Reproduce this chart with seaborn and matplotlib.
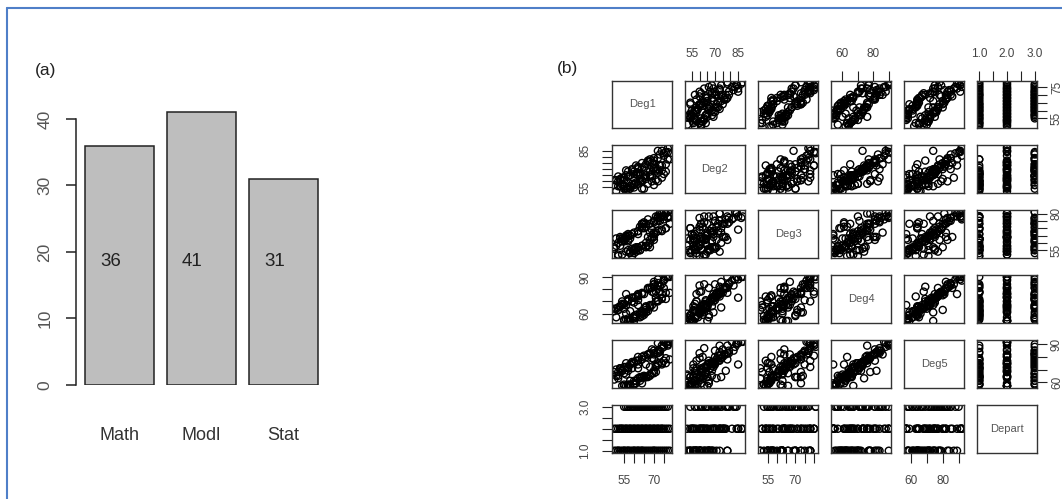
import numpy as np
import pandas as pd
import matplotlib
matplotlib.use("Agg")
import matplotlib.pyplot as plt
import seaborn as sns
from matplotlib.lines import Line2D

# (a) number of students per department
departments = ["Math", "Modl", "Stat"]
counts = [36, 41, 31]

# (b) marks of the 108 students in the five courses (Math, then Modl, then Stat)
deg1 = [52, 55, 60, 64, 70, 51, 57, 62, 67, 73, 76, 53, 58, 66, 71, 54, 61, 69, 78, 56,
        63, 74, 59, 65, 50, 68, 72, 55, 60, 75, 57, 64, 52, 70, 77, 62,
        51, 54, 58, 62, 66, 70, 74, 77, 53, 56, 60, 64, 68, 72, 76, 50, 55, 59, 63, 67,
        71, 75, 52, 57, 61, 65, 69, 73, 78, 54, 58, 62, 66, 70, 74, 53, 60, 64, 68, 72, 56,
        55, 58, 62, 66, 70, 74, 77, 56, 60, 64, 68, 72, 76, 57, 61, 65, 69, 73,
        59, 63, 67, 71, 75, 60, 64, 68, 72, 57, 62, 66, 70]
deg2 = [60, 54, 66, 54, 71, 61, 53, 65, 58, 73, 68, 56, 56, 69, 61, 58, 66, 60, 78, 52,
        66, 63, 58, 54, 57, 68, 60, 63, 58, 66, 64, 60, 56, 57, 78, 67,
        52, 63, 56, 71, 62, 77, 73, 87, 62, 54, 68, 60, 76, 67, 84, 61, 56, 70, 60, 76,
        69, 81, 64, 55, 73, 63, 75, 73, 88, 57, 65, 58, 74, 70, 85, 61, 55, 75, 65, 85, 69,
        61, 54, 72, 65, 79, 69, 84, 65, 57, 71, 64, 79, 74, 64, 59, 72, 64, 82,
        69, 62, 77, 68, 83, 57, 61, 78, 70, 68, 70, 65, 74]
deg3 = [51, 62, 55, 70, 62, 63, 55, 66, 58, 75, 70, 58, 63, 57, 73, 63, 56, 69, 73, 63,
        55, 78, 51, 70, 57, 57, 77, 63, 53, 78, 62, 58, 60, 66, 78, 55,
        58, 52, 65, 57, 71, 64, 80, 77, 63, 54, 67, 58, 73, 68, 80, 56, 63, 56, 71, 64,
        78, 76, 52, 66, 54, 74, 64, 80, 78, 61, 54, 68, 60, 75, 69, 64, 55, 73, 67, 78, 64,
        61, 53, 68, 58, 74, 68, 81, 65, 56, 71, 60, 77, 70, 65, 57, 73, 63, 77,
        66, 55, 76, 67, 81, 55, 73, 62, 75, 61, 57, 73, 67]
deg4 = [63, 55, 69, 58, 77, 64, 56, 67, 62, 82, 72, 66, 62, 61, 78, 70, 59, 78, 77, 60,
        57, 84, 70, 59, 62, 66, 83, 68, 58, 81, 70, 60, 63, 65, 90, 71,
        57, 67, 54, 74, 63, 82, 76, 90, 66, 55, 73, 62, 81, 70, 90, 64, 54, 73, 61, 80,
        70, 87, 65, 54, 74, 61, 81, 78, 90, 68, 54, 76, 65, 84, 73, 66, 54, 77, 67, 88, 76,
        64, 55, 75, 66, 84, 72, 90, 67, 57, 76, 65, 85, 77, 71, 57, 76, 67, 83,
        73, 59, 81, 73, 88, 56, 61, 81, 71, 72, 75, 65, 86]
deg5 = [63, 58, 75, 64, 78, 70, 58, 74, 64, 84, 75, 71, 61, 74, 68, 69, 59, 79, 78, 66,
        61, 87, 71, 64, 62, 65, 83, 72, 58, 77, 72, 64, 65, 67, 89, 71,
        65, 57, 74, 63, 80, 69, 89, 92, 70, 57, 76, 64, 82, 75, 91, 68, 57, 75, 64, 82,
        72, 92, 68, 57, 77, 65, 86, 81, 92, 69, 57, 77, 64, 85, 74, 71, 59, 80, 72, 91, 75,
        67, 58, 77, 64, 83, 75, 90, 72, 61, 78, 66, 85, 79, 71, 61, 81, 67, 85,
        76, 63, 82, 73, 88, 58, 59, 83, 74, 69, 80, 64, 82]
depart = np.repeat([1, 2, 3], counts)

variables = ["Deg1", "Deg2", "Deg3", "Deg4", "Deg5", "Depart"]
df = pd.DataFrame({"Deg1": deg1, "Deg2": deg2, "Deg3": deg3,
                   "Deg4": deg4, "Deg5": deg5, "Depart": depart})

# tick positions per variable and which of them carry a label on each side
ticks = {"Deg1": [55, 60, 65, 70, 75], "Deg2": [55, 60, 65, 70, 75, 80, 85],
         "Deg3": [55, 60, 65, 70, 75, 80], "Deg4": [60, 70, 80, 90],
         "Deg5": [60, 70, 80, 90], "Depart": [1.0, 1.5, 2.0, 2.5, 3.0]}
top_labels = {1: [55, 70, 85], 3: [60, 80], 5: [1.0, 2.0, 3.0]}
bottom_labels = {0: [55, 70], 2: [55, 70], 4: [60, 80]}
left_labels = {1: [55, 85], 3: [60, 90], 5: [1.0, 3.0]}
right_labels = {0: [55, 75], 2: [55, 80], 4: [60, 90]}

W, H = 1062, 499
sns.set_style("white")
plt.rcParams["font.family"] = ["Liberation Sans", "DejaVu Sans"]

fig = plt.figure(figsize=(W / 100, H / 100), dpi=100)


def px_axes(x0, y0, x1, y1):
    return fig.add_axes([x0 / W, 1 - y1 / H, (x1 - x0) / W, (y1 - y0) / H])


def fmt(v, var):
    return f"{v:.1f}" if var == "Depart" else f"{v:g}"


# ---- (a) bar chart ----
ax = px_axes(76, 105, 326, 385)
sns.barplot(x=departments, y=counts, ax=ax, color="#bebebe", saturation=1,
            edgecolor="#222222", linewidth=1.1, width=0.84)
ax.set_xlim(-0.53, 2.52)
ax.set_ylim(0, 42.1)
for s in ["top", "right", "bottom"]:
    ax.spines[s].set_visible(False)
ax.spines["left"].set_bounds(0, 40)
ax.spines["left"].set_color("#222222")
ax.spines["left"].set_linewidth(1.1)
ax.set_yticks([0, 10, 20, 30, 40])
ax.set_yticklabels(["0", "10", "20", "30", "40"], rotation=90, va="center")
ax.tick_params(axis="y", length=7, width=1.1, color="#222222", pad=10,
               labelsize=12.5, labelcolor="#555555", left=True)
ax.tick_params(axis="x", length=0, pad=30, labelsize=13, labelcolor="#333333")
for i, v in enumerate(counts):
    ax.text(i - 0.11, 18.5, str(v), ha="center", va="center", fontsize=13.5, color="#222222")
ax.set_xlabel("")
ax.set_ylabel("")
fig.text(46 / W, 1 - 70 / H, "(a)", ha="center", va="center", fontsize=12.5, color="#222222")

# ---- (b) scatterplot matrix ----
lims = {}
for v in variables:
    lo, hi = df[v].min(), df[v].max()
    r = hi - lo
    lims[v] = (lo - 0.04 * r, hi + 0.04 * r)

col_x = [612 + 73 * j for j in range(6)]
row_y = [80.5 + 64.9 * i for i in range(6)]
pw, ph = 60, 47.5

tp = dict(length=7, width=0.8, color="#222222", labelsize=8.5, labelcolor="#444444")

for i, yv in enumerate(variables):
    for j, xv in enumerate(variables):
        ax = px_axes(col_x[j], row_y[i], col_x[j] + pw, row_y[i] + ph)
        if i == j:
            ax.text(0.5, 0.5, xv, transform=ax.transAxes, ha="center", va="center",
                    fontsize=8, color="#555555")
        else:
            sns.scatterplot(x=df[xv], y=df[yv], ax=ax, marker="o", s=26,
                            facecolors="none", edgecolor="black", linewidth=1.0,
                            legend=False)
            ax.set_xlim(lims[xv])
            ax.set_ylim(lims[yv])
        ax.set_xticks([])
        ax.set_yticks([])
        ax.set_xlabel("")
        ax.set_ylabel("")
        for s in ax.spines.values():
            s.set_color("#333333")
            s.set_linewidth(1.0)
        if i == 0 and j in top_labels:
            ax.xaxis.tick_top()
            ax.set_xticks(ticks[xv])
            ax.set_xticklabels([fmt(t, xv) if t in top_labels[j] else "" for t in ticks[xv]])
            ax.tick_params(axis="x", pad=8, **tp)
        if i == 5 and j in bottom_labels:
            ax.set_xticks(ticks[xv])
            ax.set_xticklabels([fmt(t, xv) if t in bottom_labels[j] else "" for t in ticks[xv]])
            ax.tick_params(axis="x", bottom=True, pad=9, **tp)
        if j == 0 and i in left_labels:
            ax.set_yticks(ticks[yv])
            ax.set_yticklabels([fmt(t, yv) if t in left_labels[i] else "" for t in ticks[yv]],
                               rotation=90, va="center")
            ax.tick_params(axis="y", left=True, pad=8, **tp)
        if j == 5 and i in right_labels:
            ax.yaxis.tick_right()
            ax.set_yticks(ticks[yv])
            ax.set_yticklabels([fmt(t, yv) if t in right_labels[i] else "" for t in ticks[yv]],
                               rotation=90, va="center")
            ax.tick_params(axis="y", pad=3, **tp)

fig.text(568 / W, 1 - 69 / H, "(b)", ha="center", va="center", fontsize=12.5, color="#222222")

# thin blue frame of the original screenshot (left and top edges)
fig.add_artist(Line2D([7 / W, 7 / W], [0, 1 - 8 / H], color="#4f7fc8", lw=1.5))
fig.add_artist(Line2D([7 / W, 1], [1 - 8 / H, 1 - 8 / H], color="#4f7fc8", lw=1.5))

fig.savefig("out.png", dpi=100)
